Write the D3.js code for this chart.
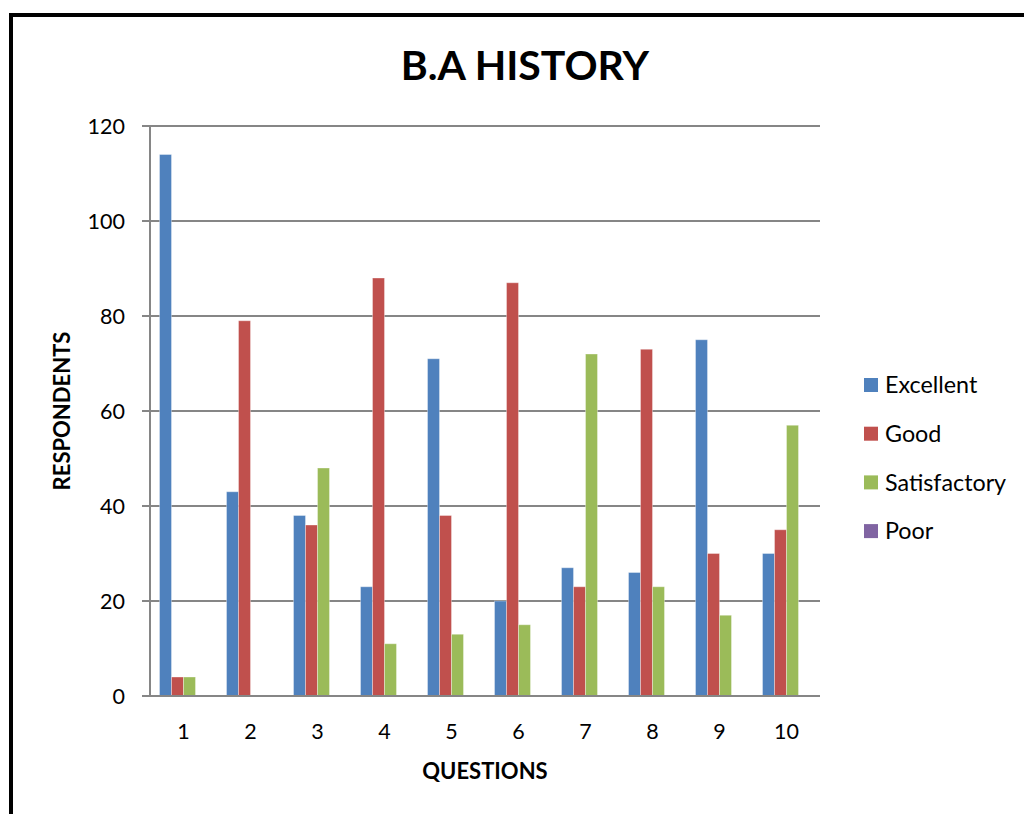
<!DOCTYPE html>
<html><head><meta charset="utf-8">
<script src="https://cdn.jsdelivr.net/npm/d3@7"></script>
<style>body{margin:0;background:#fff;}svg{display:block;font-family:Lato,"Open Sans",sans-serif;}</style>
</head><body>
<svg id="c" width="1024" height="814"></svg>
<script>
const categories = ["1","2","3","4","5","6","7","8","9","10"];
const seriesNames = ["Excellent","Good","Satisfactory","Poor"];
const excellent = [114,43,38,23,71,20,27,26,75,30];
const good = [4,79,36,88,38,87,23,73,30,35];
const satisfactory = [4,0,48,11,13,15,72,23,17,57];
const poor = [0,0,0,0,0,0,0,0,0,0];
const yTicks = [0,20,40,60,80,100,120];
const colors = ["#4F81BD","#C0504D","#9BBB59","#8064A2"];
const seriesValues = [excellent,good,satisfactory,poor];

const svg = d3.select("#c");
// outer frame
svg.append("path").attr("d","M11,814 L11,15 L1024,15").attr("fill","none").attr("stroke","#000").attr("stroke-width",4);

const L=150,R=820,T=126,B=696;
const x = d3.scaleBand().domain(categories).range([L,R]).paddingInner(0.284).paddingOuter(0.142);
const xs = d3.scaleBand().domain(seriesNames).range([0,x.bandwidth()]);
const y = d3.scaleLinear().domain([0,120]).range([B,T]);

// gridlines
svg.append("g").selectAll("line").data(yTicks).join("line")
  .attr("x1",L-8).attr("x2",R).attr("y1",d=>y(d)).attr("y2",d=>y(d))
  .attr("stroke","#868686").attr("stroke-width",2);
// y axis line
svg.append("line").attr("x1",L).attr("x2",L).attr("y1",T).attr("y2",B).attr("stroke","#868686").attr("stroke-width",2);

// bars
const groups = svg.append("g").selectAll("g").data(categories).join("g")
  .attr("transform",d=>`translate(${x(d)},0)`);
groups.selectAll("rect").data((d,i)=>seriesNames.map((s,j)=>({s,v:seriesValues[j][i],c:colors[j]})))
  .join("rect")
  .attr("x",d=>xs(d.s)).attr("width",xs.bandwidth())
  .attr("y",d=>y(d.v)).attr("height",d=>y(0)-y(d.v))
  .attr("fill",d=>d.c).attr("stroke",d=>d.v>0?"rgba(255,255,255,0.35)":"none").attr("stroke-width",1);

// x-axis line on top
svg.append("line").attr("x1",L-8).attr("x2",R).attr("y1",B).attr("y2",B).attr("stroke","#868686").attr("stroke-width",2);

// y tick labels
svg.append("g").selectAll("text").data(yTicks).join("text")
  .attr("x",125).attr("y",d=>y(d)).attr("dy","0.35em").attr("text-anchor","end")
  .attr("font-size",21.5).attr("fill","#000").text(d=>d);
// x tick labels
svg.append("g").selectAll("text").data(categories).join("text")
  .attr("x",d=>x(d)+x.bandwidth()/2).attr("y",731).attr("dy","0.35em").attr("text-anchor","middle")
  .attr("font-size",21.5).attr("fill","#000").text(d=>d);

// title
svg.append("text").attr("x",525).attr("y",80).attr("text-anchor","middle")
  .attr("font-size",41).attr("font-weight","bold").text("B.A HISTORY");
// axis titles
svg.append("text").attr("x",(L+R)/2).attr("y",779).attr("text-anchor","middle")
  .attr("font-size",22).attr("font-weight","bold").text("QUESTIONS");
svg.append("text").attr("transform",`translate(70,${(T+B)/2}) rotate(-90)`).attr("text-anchor","middle")
  .attr("font-size",22).attr("font-weight","bold").text("RESPONDENTS");

// legend
const lg = svg.append("g").selectAll("g").data(seriesNames).join("g")
  .attr("transform",(d,i)=>`translate(864,${385+i*48.7})`);
lg.append("rect").attr("x",0).attr("y",-7).attr("width",14).attr("height",14).attr("fill",(d,i)=>colors[i]);
lg.append("text").attr("x",21).attr("y",0).attr("dy","0.35em").attr("font-size",23.3).text(d=>d);
</script>
</body></html>
